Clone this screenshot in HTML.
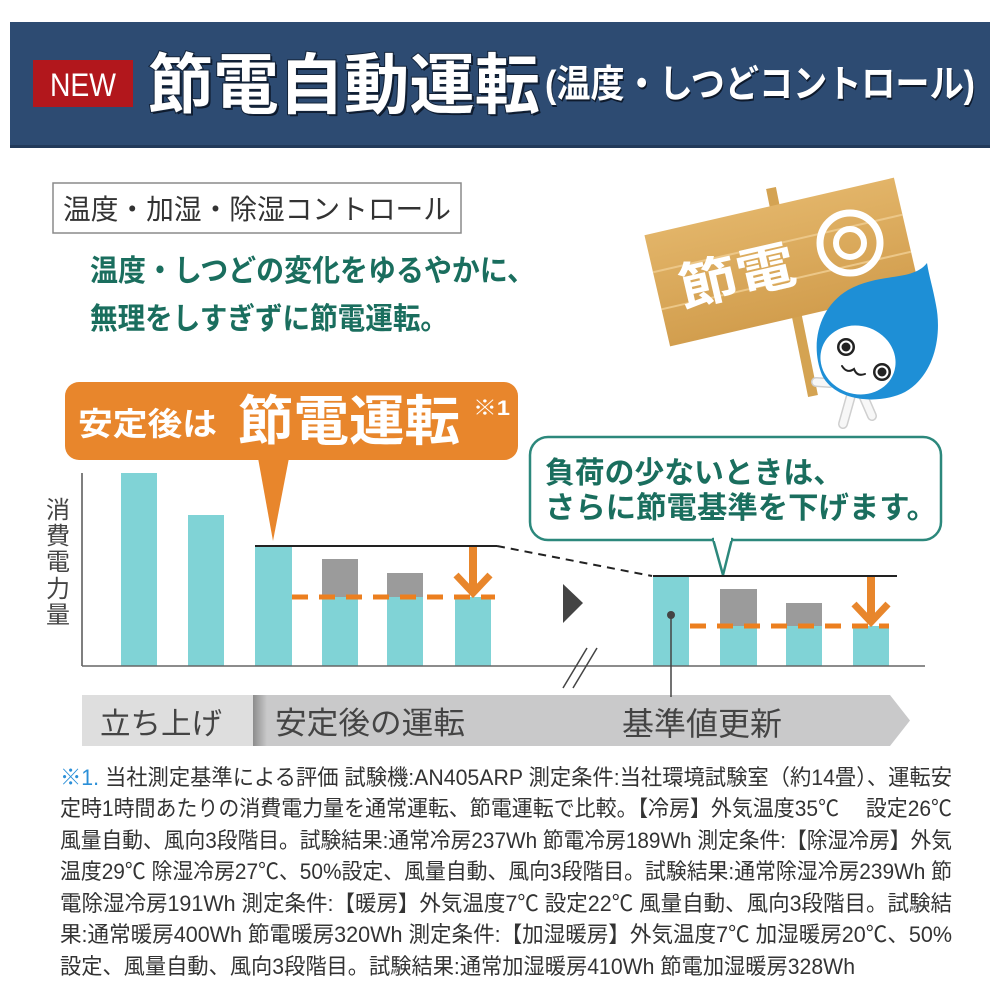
<!DOCTYPE html>
<html><head><meta charset="utf-8"><style>
html,body{margin:0;padding:0;background:#fff;}
svg{display:block;font-family:"Liberation Sans","Noto Sans CJK JP",sans-serif;}
</style></head><body>
<svg width="1000" height="1000" viewBox="0 0 1000 1000" xmlns="http://www.w3.org/2000/svg">
<defs>
<linearGradient id="edge" x1="0" x2="1" y1="0" y2="0"><stop offset="0" stop-color="#8c8c8c"/><stop offset="1" stop-color="#c9c9ca"/></linearGradient>
<linearGradient id="wood" x1="0" x2="0" y1="0" y2="1"><stop offset="0" stop-color="#e2b468"/><stop offset="1" stop-color="#d29e4e"/></linearGradient>
</defs>
<rect width="1000" height="1000" fill="#fff"/>
<!-- header -->
<rect x="10" y="22" width="980" height="126" fill="#2d4b72"/>
<rect x="10" y="145" width="980" height="3" fill="#223a5a"/>
<rect x="33" y="60" width="100" height="47" fill="#b2171c"/>
<text x="50" y="96" font-size="32" fill="#fff" textLength="66" lengthAdjust="spacingAndGlyphs">NEW</text>
<text x="150" y="110" font-size="66" font-weight="bold" fill="#0e1a2c" textLength="392" lengthAdjust="spacingAndGlyphs">節電自動運転</text>
<text x="148" y="108" font-size="66" font-weight="bold" fill="#fff" stroke="#14243a" stroke-width="2" paint-order="stroke" textLength="392" lengthAdjust="spacingAndGlyphs">節電自動運転</text>
<text x="546" y="99" font-size="38" font-weight="bold" fill="#0e1a2c" textLength="430" lengthAdjust="spacingAndGlyphs">(温度・しつどコントロール)</text>
<text x="545" y="97" font-size="38" font-weight="bold" fill="#fff" textLength="430" lengthAdjust="spacingAndGlyphs">(温度・しつどコントロール)</text>

<!-- subtitle box -->
<rect x="53" y="183" width="408" height="50" fill="#fff" stroke="#8a8a8a" stroke-width="1.5"/>
<text x="63" y="219" font-size="28" fill="#333" textLength="388" lengthAdjust="spacingAndGlyphs">温度・加湿・除湿コントロール</text>
<text x="90" y="281" font-size="30" font-weight="bold" fill="#1a6e5e" textLength="445" lengthAdjust="spacingAndGlyphs">温度・しつどの変化をゆるやかに、</text>
<text x="90" y="329" font-size="30" font-weight="bold" fill="#1a6e5e" textLength="358" lengthAdjust="spacingAndGlyphs">無理をしすぎずに節電運転。</text>

<!-- sign -->
<line x1="771" y1="188" x2="813" y2="396" stroke="#d4a352" stroke-width="10"/>
<g transform="rotate(-13 782 262)">
<rect x="654" y="205" width="256" height="114" fill="url(#wood)"/>
<line x1="654" y1="243" x2="910" y2="243" stroke="#ecc788" stroke-width="2"/>
<line x1="654" y1="281" x2="910" y2="281" stroke="#ecc788" stroke-width="2"/>
<text x="676" y="284" font-size="52" font-weight="bold" fill="#fff" textLength="118" lengthAdjust="spacingAndGlyphs">節電</text>
</g>
<circle cx="850" cy="243" r="30" fill="none" stroke="#fff" stroke-width="7"/>
<circle cx="850" cy="243" r="14" fill="none" stroke="#fff" stroke-width="6"/>

<!-- character -->
<g stroke="#cfcfcf" stroke-width="10" stroke-linecap="round">
<line x1="830" y1="383" x2="816" y2="382"/>
<line x1="852" y1="392" x2="843" y2="424"/>
<line x1="862" y1="393" x2="872" y2="416"/>
</g>
<g stroke="#f7f7f7" stroke-width="7" stroke-linecap="round">
<line x1="830" y1="383" x2="816" y2="382"/>
<line x1="852" y1="392" x2="843" y2="424"/>
<line x1="862" y1="393" x2="872" y2="416"/>
</g>
<path d="M927 263 C912 282 880 272 848 290 C818 308 810 345 822 375 C835 402 880 405 905 392 C935 375 942 335 936 305 C933 288 929 276 927 263 Z" fill="#1e8fd6"/>
<ellipse cx="858" cy="360" rx="38" ry="34" transform="rotate(20 858 360)" fill="#fff"/>
<circle cx="846" cy="347" r="9" fill="#222"/><circle cx="846" cy="347" r="6.5" fill="#fff"/><circle cx="846" cy="347" r="4.5" fill="#222"/>
<circle cx="882" cy="372" r="9" fill="#222"/><circle cx="882" cy="372" r="6.5" fill="#fff"/><circle cx="882" cy="372" r="4.5" fill="#222"/>
<path d="M842 366 q5 8 12 3 q3 8 11 5" fill="none" stroke="#222" stroke-width="2" stroke-linecap="round"/>

<!-- orange bubble -->
<rect x="65" y="382" width="453" height="78" rx="14" fill="#e8862c"/>
<polygon points="258,458 289,458 273,541" fill="#e8862c"/>
<text x="78" y="435" font-size="32" font-weight="bold" fill="#fff" textLength="139" lengthAdjust="spacingAndGlyphs">安定後は</text>
<text x="238" y="440" font-size="54" font-weight="bold" fill="#fff" textLength="222" lengthAdjust="spacingAndGlyphs">節電運転</text>
<text x="473" y="415" font-size="21" font-weight="bold" fill="#fff" textLength="37" lengthAdjust="spacingAndGlyphs">※1</text>

<!-- teal bubble -->
<rect x="530" y="437" width="411" height="103" rx="18" fill="#fff" stroke="#2c887c" stroke-width="2.5"/>
<polygon points="713,539 723,575 732,539" fill="#fff" stroke="#2c887c" stroke-width="2.5" stroke-linejoin="round"/>
<rect x="714" y="536" width="17" height="5" fill="#fff"/>
<text x="545" y="483" font-size="30" font-weight="bold" fill="#1a6e5e" textLength="298" lengthAdjust="spacingAndGlyphs">負荷の少ないときは、</text>
<text x="545" y="518" font-size="30" font-weight="bold" fill="#1a6e5e" textLength="392" lengthAdjust="spacingAndGlyphs">さらに節電基準を下げます。</text>

<!-- y label -->
<g font-size="24" fill="#444" text-anchor="middle">
<text x="58" y="518">消</text><text x="58" y="544">費</text><text x="58" y="570">電</text><text x="58" y="597">力</text><text x="58" y="623">量</text>
</g>

<!-- bars -->
<g fill="#80d3d6">
<rect x="121" y="473" width="36" height="193"/>
<rect x="188" y="515" width="36" height="151"/>
<rect x="255" y="547" width="37" height="119"/>
<rect x="322" y="597" width="36" height="69"/>
<rect x="387" y="597" width="36" height="69"/>
<rect x="455" y="597" width="36" height="69"/>
<rect x="653" y="576" width="36" height="90"/>
<rect x="720" y="626" width="37" height="40"/>
<rect x="786" y="626" width="36" height="40"/>
<rect x="853" y="626" width="36" height="40"/>
</g>
<g fill="#9b9b9b">
<rect x="322" y="559" width="36" height="38"/>
<rect x="387" y="573" width="36" height="24"/>
<rect x="720" y="589" width="37" height="37"/>
<rect x="786" y="603" width="36" height="23"/>
</g>
<!-- axes -->
<line x1="82" y1="473" x2="82" y2="666" stroke="#555" stroke-width="1.5"/>
<line x1="82" y1="666" x2="925" y2="666" stroke="#666" stroke-width="1.5"/>
<!-- reference lines -->
<line x1="255" y1="546" x2="497" y2="546" stroke="#222" stroke-width="2"/>
<line x1="497" y1="546" x2="652" y2="576" stroke="#222" stroke-width="2" stroke-dasharray="8,6"/>
<line x1="653" y1="576" x2="897" y2="576" stroke="#222" stroke-width="2"/>
<line x1="292" y1="597" x2="495" y2="597" stroke="#ec7f1f" stroke-width="5" stroke-dasharray="16,11"/>
<line x1="690" y1="626" x2="889" y2="626" stroke="#ec7f1f" stroke-width="5" stroke-dasharray="16,11"/>
<!-- arrows -->
<line x1="473" y1="547" x2="473" y2="590" stroke="#e8862c" stroke-width="8"/>
<polyline points="456,575 473,593 490,575" fill="none" stroke="#e8862c" stroke-width="7"/>
<line x1="871" y1="577" x2="871" y2="619" stroke="#e8862c" stroke-width="8"/>
<polyline points="854,604 871,622 888,604" fill="none" stroke="#e8862c" stroke-width="7"/>
<!-- triangle & break -->
<polygon points="563,584 583,603 563,623" fill="#444"/>
<line x1="563" y1="688" x2="587" y2="648" stroke="#444" stroke-width="1.5"/>
<line x1="573" y1="688" x2="597" y2="648" stroke="#444" stroke-width="1.5"/>
<!-- band -->
<rect x="82" y="695" width="171" height="51" fill="#dedede"/>
<polygon points="253,695 890,695 910,720.5 890,746 253,746" fill="#c9c9ca"/>
<rect x="253" y="695" width="14" height="51" fill="url(#edge)"/>
<text x="100" y="734" font-size="30" fill="#444" textLength="122" lengthAdjust="spacingAndGlyphs">立ち上げ</text>
<text x="275" y="734" font-size="31" fill="#444" textLength="190" lengthAdjust="spacingAndGlyphs">安定後の運転</text>
<text x="622" y="735" font-size="32" fill="#444" textLength="160" lengthAdjust="spacingAndGlyphs">基準値更新</text>
<line x1="671" y1="615" x2="671" y2="697" stroke="#444" stroke-width="1.5"/>
<circle cx="671" cy="615" r="4" fill="#444"/>

<!-- footnote -->
<g font-size="22" fill="#333">
<text x="60" y="785" textLength="892" lengthAdjust="spacingAndGlyphs"><tspan fill="#2a8fd8">※1.</tspan> 当社測定基準による評価 試験機:AN405ARP 測定条件:当社環境試験室（約14畳）、運転安</text>
<text x="60" y="816" textLength="892" lengthAdjust="spacingAndGlyphs" xml:space="preserve">定時1時間あたりの消費電力量を通常運転、節電運転で比較。【冷房】外気温度35℃　 設定26℃</text>
<text x="60" y="848" textLength="892" lengthAdjust="spacingAndGlyphs">風量自動、風向3段階目。試験結果:通常冷房237Wh 節電冷房189Wh 測定条件:【除湿冷房】外気</text>
<text x="60" y="879" textLength="892" lengthAdjust="spacingAndGlyphs">温度29℃ 除湿冷房27℃、50%設定、風量自動、風向3段階目。試験結果:通常除湿冷房239Wh 節</text>
<text x="60" y="911" textLength="892" lengthAdjust="spacingAndGlyphs">電除湿冷房191Wh  測定条件:【暖房】外気温度7℃  設定22℃  風量自動、風向3段階目。試験結</text>
<text x="60" y="942" textLength="892" lengthAdjust="spacingAndGlyphs">果:通常暖房400Wh  節電暖房320Wh  測定条件:【加湿暖房】外気温度7℃  加湿暖房20℃、50%</text>
<text x="60" y="974" textLength="795" lengthAdjust="spacingAndGlyphs">設定、風量自動、風向3段階目。試験結果:通常加湿暖房410Wh 節電加湿暖房328Wh</text>
</g>
</svg>
</body></html>
